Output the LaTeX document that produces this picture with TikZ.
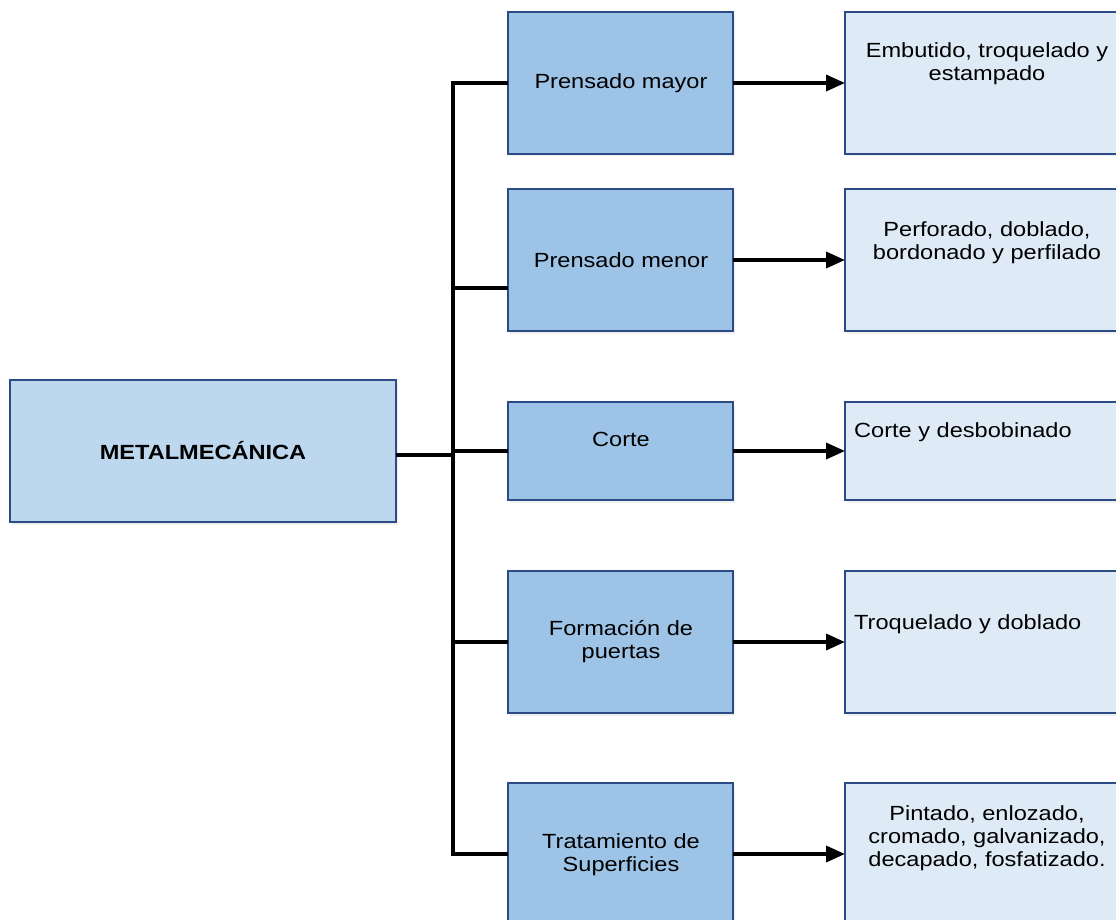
\documentclass[tikz,border=0pt]{standalone}
\usepackage{fontspec}
\setmainfont{Liberation Sans}[FakeStretch=1.15]
\usetikzlibrary{arrows.meta,shadows}

\definecolor{rootfill}{HTML}{BDD7EE}
\definecolor{stagefill}{HTML}{9DC3E6}
\definecolor{detailfill}{HTML}{DEEBF7}
\definecolor{boxline}{HTML}{2B4A86}

\begin{document}
\begin{tikzpicture}[x=1pt,y=-1pt,
  box/.style={draw=boxline, line width=1.3pt, inner sep=0pt, outer sep=0pt,
    drop shadow={opacity=0.12, shadow xshift=1.5pt, shadow yshift=-2.5pt}},
  rootbox/.style={box, fill=rootfill, minimum width=386pt, minimum height=142pt},
  stagebox/.style={box, fill=stagefill, minimum width=225pt},
  detailbox/.style={box, fill=detailfill, minimum width=284pt},
  tall/.style={minimum height=142pt},
  short/.style={minimum height=98pt},
  label/.style={inner sep=0pt, align=center, font=\fontsize{20.5pt}{23pt}\selectfont},
  conn/.style={line width=3.6pt, black, line join=miter},
  flow/.style={conn, -{Triangle[length=19pt,width=16pt]}}]

\useasboundingbox (0,0) rectangle (1116,920);
\clip (0,0) rectangle (1116,920);

% root
\node[rootbox] (meta) at (203,451) {};

% process stages
\node[stagebox,tall]  (mayor) at (620.5,83)  {};
\node[stagebox,tall]  (menor) at (620.5,260) {};
\node[stagebox,short] (corte) at (620.5,451) {};
\node[stagebox,tall]  (form)  at (620.5,642) {};
\node[stagebox,tall]  (trat)  at (620.5,854) {};

% operations of each stage
\node[detailbox,tall]  (dmayor) at (987,83)  {};
\node[detailbox,tall]  (dmenor) at (987,260) {};
\node[detailbox,short] (dcorte) at (987,451) {};
\node[detailbox,tall]  (dform)  at (987,642) {};
\node[detailbox,tall]  (dtrat)  at (987,854) {};

% texts
\node[label] (tmeta) at (203,451) {\textbf{METALMECÁNICA}};
\node[label] (tmayor) at (621,83)  {Prensado mayor};
\node[label] (tmenor) at (621,260) {Prensado menor};
\node[label] (tcorte) at (621,439) {Corte};
\node[label] (tform)  at (621,642) {Formación de\\puertas};
\node[label] (ttrat)  at (621,855) {Tratamiento de\\Superficies};
\node[label] (tdmayor) at (987,64)  {Embutido, troquelado y\\estampado};
\node[label] (tdmenor) at (987,243) {Perforado, doblado,\\bordonado y perfilado};
\node[label, anchor=west] (tdcorte) at (854,432) {Corte y desbobinado};
\node[label, anchor=west] (tdform)  at (854,624) {Troquelado y doblado};
\node[label] (tdtrat) at (987,838) {Pintado, enlozado,\\cromado, galvanizado,\\decapado, fosfatizado.};

% vertical bus joining the root to the stages
\coordinate (bus) at (453,0);
\coordinate (metaOut) at ([yshift=-4pt]meta.east);
\coordinate (menorIn) at ([yshift=-28pt]menor.west);

\draw[conn] (mayor.west) -- (mayor.west -| bus) -- (trat.west -| bus) -- (trat.west);
\draw[conn] (metaOut) -- (metaOut -| bus);
\draw[conn] (menorIn) -- (menorIn -| bus);
\draw[conn] (corte.west) -- (corte.west -| bus);
\draw[conn] (form.west) -- (form.west -| bus);

% stage to operations
\draw[flow] (mayor.east) -- (dmayor.west);
\draw[flow] (menor.east) -- (dmenor.west);
\draw[flow] (corte.east) -- (dcorte.west);
\draw[flow] (form.east) -- (dform.west);
\draw[flow] (trat.east) -- (dtrat.west);
\end{tikzpicture}
\end{document}
